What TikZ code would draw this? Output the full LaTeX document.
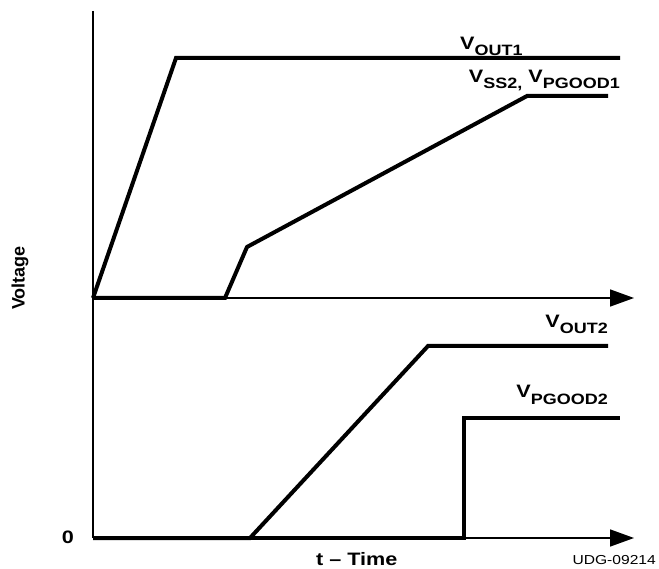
\documentclass[tikz,border=0pt]{standalone}
\usepackage{fontspec}
\setmainfont{Liberation Sans}[FakeStretch=1.2]
\newfontfamily\plainsans{Liberation Sans}
\usepackage{tikz}
\usetikzlibrary{arrows.meta}
\newcommand{\sigv}[1]{V\raisebox{-6pt}{\fontsize{15}{15}\selectfont #1}}

\begin{document}
\begin{tikzpicture}[x=1pt, y=-1pt,
  axe/.style={line width=1.5pt, -{Triangle[length=24pt, width=17pt]}},
  trace/.style={line width=4pt, line join=miter},
  lab/.style={font=\fontsize{18}{20}\selectfont\bfseries, inner sep=0pt}]

\useasboundingbox (0,0) rectangle (659,569);

% axes
\coordinate (top) at (93,11);
\coordinate (o1) at (93,298);
\coordinate (o2) at (93,538);
\coordinate (e1) at (634,298);
\coordinate (e2) at (634,538);
\draw[line width=1.5pt] (top) -- (o2);
\draw[axe] (o1) -- (e1);
\draw[axe] (o2) -- (e2);

% upper traces
\draw[trace] (o1) -- (176,58) -- (620,58);
\draw[trace] (o1) -- (225,298) -- (247,247) -- (527,96) -- (608,96);

% lower traces
\draw[trace] (o2) -- (250,538) -- (428,346) -- (608,346);
\draw[trace] (250,538) -- (464,538) -- (464,418) -- (620,418);

% labels
\node[lab, anchor=base west] (vout1) at (460,50) {\sigv{OUT1}};
\node[lab, anchor=base east] (vss2) at (620,83) {\sigv{SS2,}\ \sigv{PGOOD1}};
\node[lab, anchor=base east] (vout2) at (608,328) {\sigv{OUT2}};
\node[lab, anchor=base east] (vpg2) at (608,398) {\sigv{PGOOD2}};
\node[lab] (zero) at (68,537) {0};
\node[lab, anchor=base west] (temps) at (316,565) {t -- Time};
\node[font=\fontsize{18}{20}\selectfont\plainsans\bfseries, inner sep=0pt, rotate=90] (volt) at (20,278) {Voltage};
\node[font=\fontsize{13}{15}\selectfont, inner sep=0pt, anchor=base east] (ref) at (656,564) {UDG-09214};

\end{tikzpicture}
\end{document}
